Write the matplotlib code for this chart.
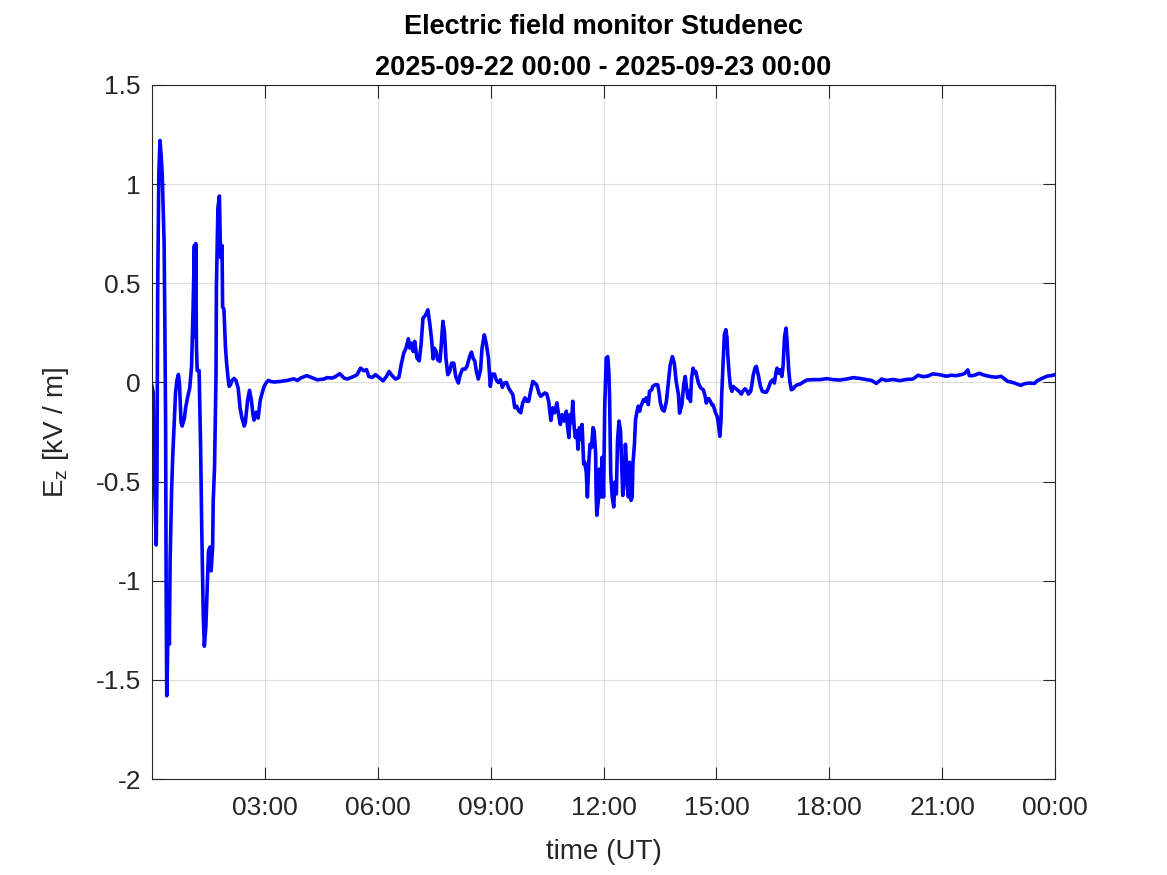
import numpy as np
import matplotlib
matplotlib.use("Agg")
import matplotlib.pyplot as plt

plt.rcParams['font.family'] = ['Liberation Sans', 'DejaVu Sans']

# time in hours UT, Ez in kV/m
t_storm = [0.0, 0.03, 0.05, 0.08, 0.11, 0.13, 0.15, 0.18, 0.21, 0.24, 0.27, 0.30, 0.32, 0.34,
           0.36, 0.375, 0.39, 0.41, 0.43, 0.45, 0.46, 0.48, 0.52, 0.55, 0.59, 0.625, 0.66, 0.70,
           0.73, 0.77, 0.80, 0.86, 0.89, 0.95, 1.0, 1.05, 1.09, 1.125, 1.14, 1.16, 1.18, 1.20,
           1.25, 1.29, 1.32, 1.36, 1.39, 1.43, 1.46, 1.50, 1.54, 1.57, 1.61, 1.625, 1.66, 1.70,
           1.71, 1.75, 1.79, 1.82, 1.86, 1.875, 1.91, 1.95, 1.98, 2.02, 2.05, 2.09, 2.125, 2.18,
           2.23, 2.29, 2.34, 2.39, 2.45, 2.48, 2.54, 2.59, 2.64, 2.68, 2.71, 2.77, 2.82, 2.875,
           2.93, 2.98, 3.04, 3.09]
ez_storm = [-0.02, -0.05, -0.34, -0.60, -0.82, -0.50, 0.48, 1.05, 1.22, 1.15, 1.05, 0.85, 0.71, 0.29,
            -0.20, -1.05, -1.58, -1.40, -1.11, -1.25, -1.32, -0.90, -0.54, -0.37, -0.20, -0.05, 0.01, 0.04,
            -0.01, -0.20, -0.22, -0.18, -0.13, -0.07, -0.03, 0.08, 0.37, 0.69, 0.23, 0.70, 0.18, 0.06,
            0.06, -0.32, -0.73, -1.17, -1.33, -1.23, -1.06, -0.85, -0.83, -0.95, -0.83, -0.60, -0.43, 0.04,
            0.48, 0.88, 0.94, 0.63, 0.69, 0.38, 0.37, 0.18, 0.10, 0.02, -0.02, -0.01, 0.01, 0.02,
            0.01, -0.03, -0.13, -0.18, -0.22, -0.20, -0.09, -0.04, -0.09, -0.16, -0.19, -0.15, -0.18, -0.09,
            -0.05, -0.02, 0.00, 0.01]

t_morning = [3.15, 3.24, 3.42, 3.59, 3.77, 3.86, 3.95, 4.11, 4.21, 4.39, 4.57, 4.65, 4.79, 4.88,
             4.99, 5.10, 5.19, 5.36, 5.45, 5.54, 5.63, 5.70, 5.76, 5.85, 5.94, 6.03, 6.14, 6.23,
             6.30, 6.38, 6.47, 6.56, 6.62, 6.69, 6.75, 6.81, 6.85, 6.89, 6.94, 6.98, 7.04, 7.10,
             7.15, 7.20, 7.27, 7.33, 7.38, 7.43, 7.47, 7.50, 7.55, 7.59, 7.65, 7.68, 7.73, 7.77,
             7.81, 7.86, 7.91, 7.96, 8.02, 8.07, 8.14, 8.19, 8.25, 8.32, 8.37, 8.44, 8.49, 8.53,
             8.58, 8.62, 8.67, 8.73, 8.77, 8.83, 8.88, 8.94, 8.99, 9.04, 9.10, 9.15, 9.20, 9.26,
             9.31, 9.36, 9.42, 9.48]
ez_morning = [0.005, 0.002, 0.005, 0.010, 0.018, 0.010, 0.022, 0.034, 0.027, 0.013, 0.017, 0.024, 0.022, 0.030,
              0.044, 0.022, 0.017, 0.030, 0.039, 0.072, 0.059, 0.064, 0.030, 0.025, 0.039, 0.025, 0.008, 0.030,
              0.055, 0.034, 0.017, 0.025, 0.089, 0.148, 0.173, 0.220, 0.173, 0.198, 0.156, 0.207, 0.123, 0.109,
              0.190, 0.324, 0.340, 0.366, 0.299, 0.215, 0.119, 0.173, 0.156, 0.114, 0.106, 0.173, 0.308, 0.257,
              0.123, 0.039, 0.055, 0.097, 0.097, 0.030, -0.003, 0.039, 0.067, 0.067, 0.081, 0.131, 0.153, 0.123,
              0.106, 0.055, 0.017, 0.064, 0.173, 0.240, 0.198, 0.123, -0.020, 0.042, 0.042, 0.012, 0.000, 0.013,
              -0.025, -0.003, 0.000, -0.029]

t_noon = [9.53, 9.59, 9.64, 9.69, 9.75, 9.80, 9.85, 9.91, 9.96, 10.01, 10.06, 10.12, 10.17, 10.22,
          10.28, 10.33, 10.38, 10.44, 10.49, 10.54, 10.60, 10.65, 10.70, 10.76, 10.79, 10.85, 10.90, 10.95,
          11.01, 11.04, 11.08, 11.11, 11.15, 11.18, 11.22, 11.25, 11.29, 11.32, 11.36, 11.40, 11.43, 11.47,
          11.50, 11.54, 11.57, 11.61, 11.64, 11.68, 11.72, 11.75, 11.79, 11.80, 11.82, 11.86, 11.89, 11.93,
          11.96, 12.00, 12.03, 12.07, 12.11, 12.14, 12.16, 12.19, 12.23, 12.27, 12.30, 12.34, 12.37, 12.41,
          12.45, 12.48, 12.51, 12.55, 12.58, 12.62, 12.66, 12.69, 12.73, 12.76, 12.78, 12.82, 12.85, 12.89,
          12.92, 12.96, 12.99, 13.03, 13.06, 13.10, 13.13, 13.19, 13.22, 13.28, 13.31, 13.37, 13.44, 13.47,
          13.51, 13.56, 13.61, 13.67, 13.72, 13.77, 13.83, 13.88, 13.93, 13.99]
ez_noon = [-0.045, -0.062, -0.128, -0.120, -0.145, -0.153, -0.103, -0.078, -0.095, -0.095, -0.045, 0.005, -0.003, -0.012,
           -0.053, -0.070, -0.062, -0.053, -0.058, -0.095, -0.192, -0.128, -0.153, -0.103, -0.145, -0.212, -0.162, -0.195,
           -0.145, -0.220, -0.278, -0.162, -0.203, -0.095, -0.228, -0.278, -0.245, -0.337, -0.228, -0.287, -0.212, -0.412,
           -0.403, -0.453, -0.578, -0.395, -0.312, -0.328, -0.228, -0.245, -0.362, -0.545, -0.670, -0.595, -0.437, -0.578,
           -0.378, -0.578, -0.128, 0.122, 0.130, 0.055, -0.078, -0.462, -0.578, -0.628, -0.503, -0.562, -0.295, -0.195,
           -0.245, -0.403, -0.570, -0.512, -0.312, -0.445, -0.578, -0.403, -0.595, -0.578, -0.412, -0.312, -0.187, -0.145,
           -0.120, -0.145, -0.120, -0.103, -0.087, -0.095, -0.078, -0.112, -0.045, -0.037, -0.020, -0.012, -0.012, -0.045,
           -0.103, -0.137, -0.145, -0.095, -0.003, 0.088, 0.130, 0.097, 0.005, -0.062]

t_afternoon = [14.02, 14.08, 14.13, 14.17, 14.20, 14.24, 14.27, 14.31, 14.34, 14.38, 14.41, 14.45, 14.49, 14.52,
               14.56, 14.59, 14.65, 14.70, 14.73, 14.77, 14.80, 14.84, 14.88, 14.91, 14.95, 14.98, 15.02, 15.05,
               15.09, 15.12, 15.14, 15.18, 15.21, 15.25, 15.28, 15.30, 15.34, 15.37, 15.41, 15.44, 15.50, 15.55,
               15.60, 15.66, 15.71, 15.76, 15.82, 15.85, 15.91, 15.94, 15.98, 16.03, 16.06, 16.12, 16.17, 16.22,
               16.28, 16.33, 16.38, 16.44, 16.49, 16.54, 16.58, 16.61, 16.65, 16.69, 16.74, 16.77, 16.81, 16.85,
               16.88, 16.92, 16.95, 16.99, 17.04, 17.09, 17.15]
ez_afternoon = [-0.155, -0.113, -0.012, 0.030, -0.020, -0.079, -0.045, -0.096, 0.022, 0.072, 0.047, 0.055, 0.022, -0.003,
                -0.020, -0.029, -0.037, -0.070, -0.104, -0.082, -0.082, -0.096, -0.113, -0.113, -0.138, -0.155, -0.172, -0.205,
                -0.272, -0.197, -0.062, 0.106, 0.240, 0.266, 0.224, 0.140, 0.039, -0.020, -0.045, -0.020, -0.029, -0.037,
                -0.045, -0.059, -0.042, -0.032, -0.045, -0.059, -0.045, -0.012, 0.039, 0.076, 0.081, 0.030, -0.020, -0.045,
                -0.049, -0.049, -0.029, 0.002, 0.013, -0.003, 0.047, 0.072, 0.047, 0.064, 0.030, 0.081, 0.232, 0.274,
                0.198, 0.064, 0.005, -0.037, -0.032, -0.020, -0.012]

t_evening = [17.22, 17.31, 17.40, 17.58, 17.75, 17.93, 18.11, 18.28, 18.46, 18.64, 18.81, 18.99, 19.12, 19.25,
             19.39, 19.52, 19.69, 19.87, 20.05, 20.22, 20.36, 20.49, 20.62, 20.75, 20.93, 21.11, 21.24, 21.37,
             21.50, 21.59, 21.68, 21.72, 21.81, 21.90, 21.99, 22.08, 22.17, 22.30, 22.43, 22.56, 22.65, 22.74,
             22.83, 22.92, 23.00, 23.09, 23.18, 23.31, 23.45, 23.53, 23.67, 23.80, 23.89, 24.0]
ez_evening = [-0.009, 0.002, 0.012, 0.014, 0.014, 0.019, 0.014, 0.012, 0.017, 0.024, 0.020, 0.014, 0.010, -0.005,
              0.017, 0.010, 0.015, 0.009, 0.015, 0.017, 0.036, 0.029, 0.032, 0.043, 0.039, 0.031, 0.036, 0.034,
              0.039, 0.044, 0.063, 0.034, 0.034, 0.039, 0.046, 0.039, 0.034, 0.029, 0.026, 0.031, 0.019, 0.005,
              0.002, -0.003, -0.009, -0.015, -0.007, -0.003, -0.005, 0.009, 0.022, 0.032, 0.034, 0.039]

xtick_pos = [3, 6, 9, 12, 15, 18, 21, 24]
xtick_labels = ["03:00", "06:00", "09:00", "12:00", "15:00", "18:00", "21:00", "00:00"]
ytick_pos = [-2, -1.5, -1, -0.5, 0, 0.5, 1, 1.5]
ytick_labels = ["-2", "-1.5", "-1", "-0.5", "0", "0.5", "1", "1.5"]

t = np.concatenate([t_storm, t_morning, t_noon, t_afternoon, t_evening])
ez = np.concatenate([ez_storm, ez_morning, ez_noon, ez_afternoon, ez_evening])

txt = (0.15, 0.15, 0.15)
fig = plt.figure(figsize=(11.67, 8.75), dpi=100)
ax = fig.add_axes([0.1303, 0.1097, 0.7738, 0.7932])
ax.plot(t, ez, color=(0, 0, 1), lw=2.6)

ax.set_xlim(0, 24)
ax.set_ylim(-2, 1.5)
ax.set_xticks(xtick_pos)
ax.set_xticklabels(xtick_labels)
ax.set_yticks(ytick_pos)
ax.set_yticklabels(ytick_labels)
ax.grid(True, color=(0.15, 0.15, 0.15), alpha=0.15, lw=0.8)
ax.tick_params(direction='in', length=9, width=0.8, top=True, right=True,
               labelsize=19, colors=txt)
ax.tick_params(axis='x', pad=12)
ax.tick_params(axis='y', pad=8)
for s in ax.spines.values():
    s.set_color(txt)
    s.set_linewidth(0.8)

ax.set_xlabel("time (UT)", fontsize=20, color=txt, labelpad=14)
ax.set_ylabel(r"E$_\mathregular{z}$ [kV / m]", fontsize=20, color=txt, labelpad=18)
ax.set_title("Electric field monitor Studenec\n2025-09-22 00:00 - 2025-09-23 00:00",
             fontsize=19.5, fontweight='bold', color='black', pad=7, linespacing=1.75)

fig.savefig("out.png", dpi=100)
